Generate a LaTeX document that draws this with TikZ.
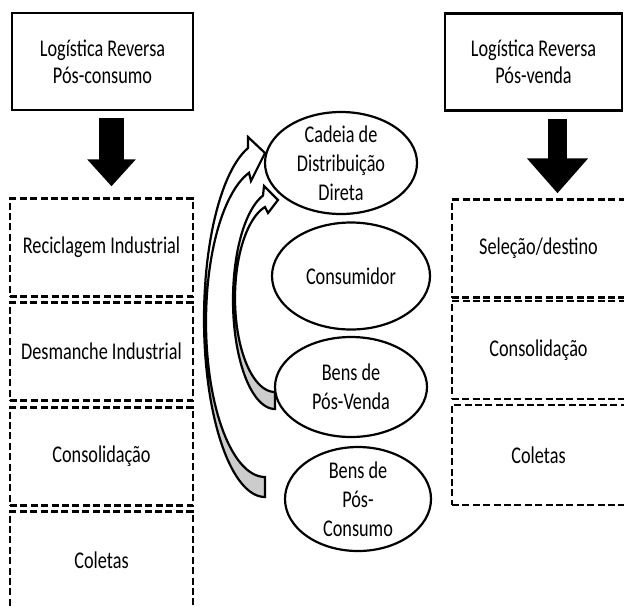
\documentclass[tikz,border=0pt]{standalone}
\usepackage{fontspec}
\setmainfont{Carlito}[FakeStretch=0.76]
\usetikzlibrary{shapes.geometric,arrows.meta,calc}
\definecolor{backgray}{RGB}{204,204,204}

\begin{document}
\begin{tikzpicture}[x=0.5pt,y=-0.5pt,
  every node/.style={inner sep=0pt, font=\fontsize{12}{13.5}\selectfont},
  headbox/.style={draw, line width=1.3pt, minimum height=48.5pt, align=center},
  stagebox/.style={draw, line width=1.2pt, dash pattern=on 3.5pt off 1.7pt, minimum height=49pt, align=center},
  flowell/.style={draw, ellipse, line width=1.1pt, inner sep=-6pt, align=center, font=\fontsize{12}{14.5}\selectfont},
  bigarrowl/.style={line width=12.5pt, -{Triangle[width=23.5pt,length=13.5pt]}},
  bigarrowr/.style={line width=9.5pt, -{Triangle[width=29.5pt,length=17.5pt]}},
  curvearrow/.style={draw, line width=1.1pt, line join=miter},
]
\clip (0,0) rectangle (624,606);

% pos-consumo column
\node[headbox, minimum width=90.5pt] (lrpc) at (102.5,61.5) {Logística Reversa\\Pós-consumo};
\node[stagebox, minimum width=91.5pt] (recind) at (101.5,247.5) {Reciclagem Industrial};
\node[stagebox, minimum width=91.5pt] (desind) at (101.5,351.5) {Desmanche Industrial};
\node[stagebox, minimum width=91.5pt] (conspc) at (101.5,456.5) {Consolidação};
\node[stagebox, minimum width=91.5pt] (colpc) at (101.5,560.5) {Coletas};
\draw[bigarrowl] ($(lrpc.south)+(9,7)$) -- ($(recind.north)+(10,-11)$);

% pos-venda column
\node[headbox, minimum width=88.5pt] (lrpv) at (533.5,62) {Logística Reversa\\Pós-venda};
\node[stagebox, minimum width=86.5pt] (seldest) at (538.5,248.5) {Seleção/destino};
\node[stagebox, minimum width=86.5pt] (conspv) at (538.5,350) {Consolidação};
\node[stagebox, minimum width=86.5pt, minimum height=50pt] (colpv) at (538.5,455) {Coletas};
\draw[bigarrowr] ($(lrpv.south)+(24,7)$) -- ($(seldest.north)+(19,-5)$);

% return from pos-consumo (outer curved arrow)
\fill[backgray] plot[domain=180:90,samples=30] ({265+61*cos(\x)},{319+178*sin(\x)})
  -- plot[domain=90:180,samples=30] ({265+59*cos(\x)},{322+155*sin(\x)}) -- cycle;
\fill[white] plot[domain=253.8:180,samples=30] ({265+61*cos(\x)},{319+178*sin(\x)})
  -- plot[domain=180:254.3,samples=30] ({265+59*cos(\x)},{322+155*sin(\x)})
  -- (251,181) -- (265,153) -- (248,137) -- cycle;
\draw[curvearrow] plot[domain=253.8:90,samples=60] ({265+61*cos(\x)},{319+178*sin(\x)})
  -- plot[domain=90:254.3,samples=60] ({265+59*cos(\x)},{322+155*sin(\x)})
  -- (251,181) -- (265,153) -- (248,137) -- cycle;

% return from pos-venda (inner curved arrow)
\fill[backgray] plot[domain=180:90,samples=30] ({275+42*cos(\x)},{300+109*sin(\x)})
  -- plot[domain=90:180,samples=30] ({275+40*cos(\x)},{298+94*sin(\x)}) -- cycle;
\fill[white] plot[domain=253.4:180,samples=30] ({275+42*cos(\x)},{300+109*sin(\x)})
  -- plot[domain=180:255.5,samples=30] ({275+40*cos(\x)},{298+94*sin(\x)})
  -- (268,213) -- (278,200) -- (264,186) -- cycle;
\draw[curvearrow] plot[domain=253.4:90,samples=60] ({275+42*cos(\x)},{300+109*sin(\x)})
  -- plot[domain=90:255.5,samples=60] ({275+40*cos(\x)},{298+94*sin(\x)})
  -- (268,213) -- (278,200) -- (264,186) -- cycle;

% central chain
\node[flowell, minimum width=76pt, minimum height=51pt] (cadeia) at (341,163) {Cadeia de\\Distribuição\\Direta};
\node[flowell, minimum width=79pt, minimum height=53.5pt] (consum) at (351,276) {Consumidor};
\node[flowell, minimum width=76pt, minimum height=50pt] (bpv) at (351,387) {Bens de\\Pós-Venda};
\node[flowell, minimum width=73pt, minimum height=52pt] (bpc) at (358,499) {Bens de\\Pós-\\Consumo};
\end{tikzpicture}
\end{document}
